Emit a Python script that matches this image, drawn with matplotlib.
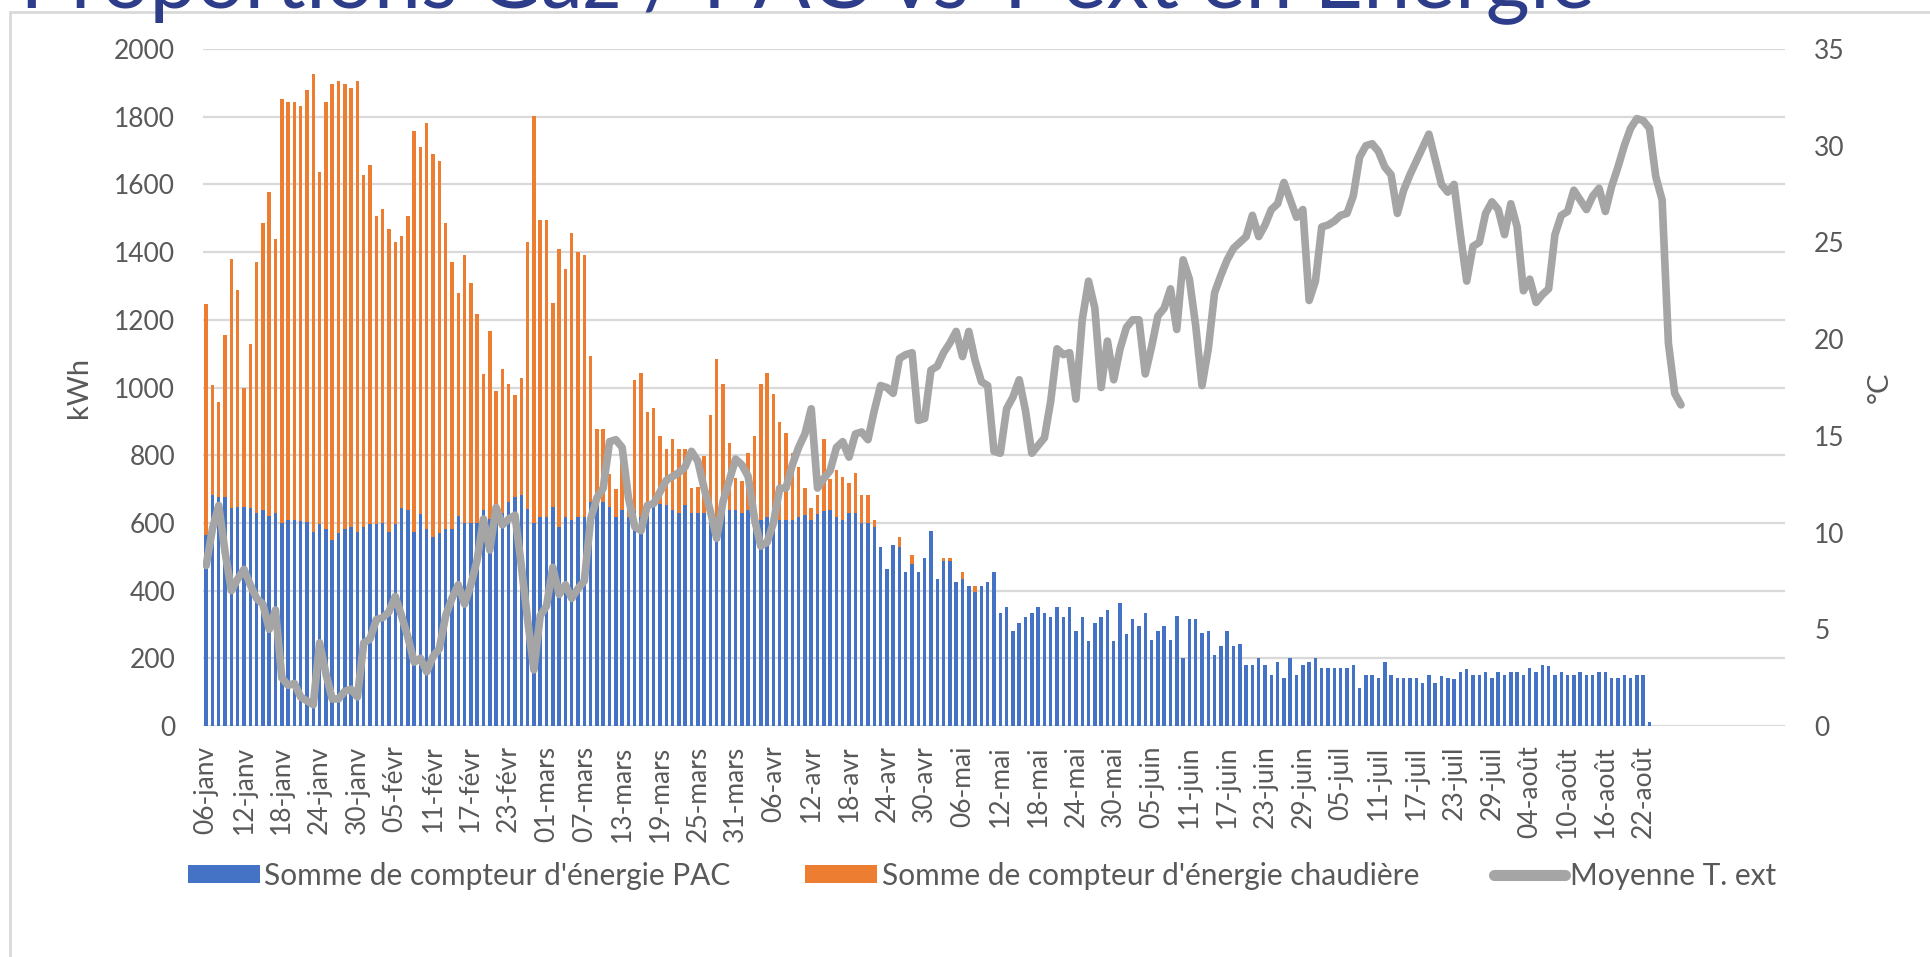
import matplotlib
matplotlib.use("Agg")
import matplotlib.pyplot as plt
from matplotlib.patches import Rectangle, Patch
from matplotlib.lines import Line2D
import numpy as np

plt.rcParams['font.family'] = ['Lato', 'DejaVu Sans']

# ---- data ----
# one category per day from 06-janv; the axis carries empty days after the data
n_categories = 251

tick_labels = ["06-janv", "12-janv", "18-janv", "24-janv", "30-janv",
               "05-févr", "11-févr", "17-févr", "23-févr",
               "01-mars", "07-mars", "13-mars", "19-mars", "25-mars", "31-mars",
               "06-avr", "12-avr", "18-avr", "24-avr", "30-avr",
               "06-mai", "12-mai", "18-mai", "24-mai", "30-mai",
               "05-juin", "11-juin", "17-juin", "23-juin", "29-juin",
               "05-juil", "11-juil", "17-juil", "23-juil", "29-juil",
               "04-août", "10-août", "16-août", "22-août"]

# PAC energy (kWh), daily
pac = [565, 683, 677, 677, 643, 646, 646, 643, 630, 639,
       620, 630, 599, 610, 610, 607, 603, 572, 596, 583,
       549, 569, 583, 589, 572, 589, 596, 596, 599, 572,
       596, 643, 639, 572, 626, 583, 559, 569, 583, 583,
       620, 599, 599, 599, 639, 612, 643, 630, 663, 677,
       683, 640, 600, 616, 616, 646, 589, 616, 610, 616,
       616, 663, 663, 663, 647, 616, 639, 616, 636, 616,
       634, 647, 656, 652, 639, 630, 652, 630, 630, 630,
       643, 600, 639, 639, 639, 630, 639, 616, 610, 616,
       636, 610, 610, 610, 616, 623, 610, 626, 636, 639,
       616, 610, 630, 630, 599, 599, 589, 529, 465, 536,
       529, 455, 478, 455, 496, 576, 435, 486, 486, 425,
       435, 415, 395, 415, 425, 455, 335, 352, 281, 304,
       321, 335, 352, 335, 321, 352, 321, 352, 281, 321,
       251, 304, 321, 344, 251, 362, 272, 315, 295, 335,
       255, 281, 295, 255, 324, 201, 315, 315, 275, 281,
       210, 237, 281, 237, 241, 181, 181, 201, 181, 151,
       190, 141, 201, 151, 181, 190, 201, 170, 170, 170,
       170, 170, 181, 111, 151, 151, 141, 190, 151, 141,
       141, 141, 141, 127, 151, 127, 147, 141, 138, 161,
       167, 151, 151, 161, 141, 161, 151, 161, 161, 151,
       170, 161, 181, 178, 151, 161, 151, 151, 161, 151,
       151, 161, 161, 141, 141, 151, 141, 151, 151, 13]

# PAC + chaudière stacked total (kWh), only while the boiler runs
total = [1246, 1007, 958, 1156, 1380, 1289, 998, 1128, 1370, 1487,
         1578, 1440, 1851, 1842, 1842, 1831, 1878, 1926, 1638, 1842,
         1898, 1906, 1898, 1886, 1906, 1628, 1658, 1507, 1527, 1467,
         1431, 1449, 1507, 1759, 1711, 1782, 1691, 1668, 1487, 1370,
         1279, 1390, 1309, 1216, 1041, 1168, 989, 1056, 1009, 978,
         1029, 1431, 1802, 1496, 1496, 1249, 1409, 1349, 1456, 1400,
         1390, 1094, 877, 877, 743, 700, 817, 680, 1021, 1042,
         927, 938, 857, 817, 847, 817, 817, 703, 706, 797,
         918, 1085, 1009, 837, 733, 723, 806, 857, 1009, 1042,
         981, 898, 867, 806, 764, 703, 643, 683, 847, 730,
         757, 737, 717, 746, 683, 683, 610, 529, 465, 536,
         559, 455, 505, 455, 496, 576, 435, 496, 496, 425,
         455, 415, 415, 415]

# mean outdoor temperature (°C)
t_ext = [8.3, 10.2, 11.4, 9.0, 7.0, 7.6, 8.1, 7.3, 6.6, 6.3,
         5.0, 6.0, 2.5, 2.1, 2.2, 1.5, 1.3, 1.1, 4.3, 2.7,
         1.4, 1.4, 1.8, 1.9, 1.5, 4.3, 4.5, 5.5, 5.6, 5.9,
         6.7, 5.7, 4.6, 3.3, 3.5, 2.8, 3.6, 4.0, 5.7, 6.6,
         7.3, 6.3, 7.3, 8.6, 10.7, 9.1, 11.3, 10.4, 10.7, 10.9,
         8.3, 5.5, 2.9, 5.7, 6.2, 8.2, 6.8, 7.3, 6.6, 7.1,
         7.5, 10.7, 11.8, 12.3, 14.7, 14.8, 14.4, 11.8, 10.3, 10.1,
         11.4, 11.5, 12.1, 12.7, 12.9, 13.1, 13.4, 14.2, 13.7, 12.3,
         11.1, 9.7, 11.6, 12.7, 13.8, 13.5, 12.9, 10.7, 9.3, 9.5,
         10.5, 12.3, 12.3, 13.5, 14.4, 15.1, 16.4, 12.3, 12.8, 13.2,
         14.4, 14.7, 13.9, 15.1, 15.2, 14.8, 16.3, 17.6, 17.5, 17.2,
         19.0, 19.2, 19.3, 15.8, 15.9, 18.4, 18.6, 19.3, 19.8, 20.4,
         19.1, 20.4, 18.9, 17.8, 17.6, 14.2, 14.1, 16.4, 17.0, 17.9,
         16.3, 14.1, 14.5, 14.9, 16.8, 19.5, 19.2, 19.3, 16.9, 21.0,
         23.0, 21.6, 17.5, 19.9, 17.9, 19.5, 20.6, 21.0, 21.0, 18.2,
         19.6, 21.2, 21.6, 22.6, 20.5, 24.1, 23.1, 20.7, 17.6, 19.5,
         22.4, 23.3, 24.1, 24.7, 25.0, 25.3, 26.4, 25.3, 25.9, 26.7,
         27.0, 28.1, 27.2, 26.3, 26.7, 22.0, 23.0, 25.8, 25.9, 26.1,
         26.4, 26.5, 27.4, 29.4, 30.0, 30.1, 29.7, 28.9, 28.5, 26.5,
         27.7, 28.5, 29.2, 29.9, 30.6, 29.3, 28.0, 27.6, 28.0, 25.4,
         23.0, 24.8, 25.0, 26.5, 27.1, 26.7, 25.4, 27.0, 25.8, 22.5,
         23.1, 21.9, 22.3, 22.6, 25.4, 26.4, 26.6, 27.7, 27.2, 26.7,
         27.4, 27.8, 26.6, 27.9, 28.9, 30.0, 30.9, 31.4, 31.3, 30.9,
         28.4, 27.2, 19.8, 17.2, 16.6]

title = "Proportions Gaz / PAC vs T ext en Énergie"
legend_labels = ["Somme de compteur d'énergie PAC",
                 "Somme de compteur d'énergie chaudière",
                 "Moyenne T. ext"]

# ---- derived series ----
pac = np.array(pac, dtype=float)
tot = np.array(total + [0] * (len(pac) - len(total)), dtype=float)
chaud = np.clip(tot - pac, 0, None)
x_bars = np.arange(len(pac))
x_line = np.arange(len(t_ext))
tick_pos = np.arange(len(tick_labels)) * 6

BLUE = "#4472C4"
ORANGE = "#ED7D31"
GREY = "#A5A5A5"
TXT = "#595959"
GRID = "#D9D9D9"

W, H = 1930, 957
fig = plt.figure(figsize=(W / 100, H / 100), dpi=100)
# chart frame, only its top and left edges are in the picture
fig.patches.append(Rectangle((10 / W, -0.1), 1.2, 1.1 - 12 / H, transform=fig.transFigure,
                             fill=False, edgecolor=GRID, lw=2, zorder=0))

ax = fig.add_axes([203 / W, 1 - 726 / H, (1785 - 203) / W, (726 - 49) / H])
ax2 = ax.twinx()

ax.bar(x_bars, pac, width=0.55, color=BLUE, zorder=2)
ax.bar(x_bars, chaud, width=0.55, bottom=pac, color=ORANGE, zorder=2)
ax2.plot(x_line, t_ext, color=GREY, lw=5.5, solid_joinstyle="round",
         solid_capstyle="round", zorder=3)

ax.set_xlim(-0.5, n_categories - 0.5)
ax.set_ylim(0, 2000)
ax.set_yticks(range(0, 2001, 200))
ax2.set_ylim(0, 35)
ax2.set_yticks(range(0, 36, 5))
ax.grid(axis="y", color=GRID, lw=1.6, zorder=0)
ax.set_axisbelow(True)
for a in (ax, ax2):
    for s in a.spines.values():
        s.set_visible(False)

ax.set_xticks(tick_pos)
ax.set_xticklabels(tick_labels, rotation=90, fontsize=19, color=TXT)
ax.tick_params(axis="x", length=0, pad=14)
ax.tick_params(axis="y", length=0, pad=20, labelsize=19, labelcolor=TXT)
ax2.tick_params(axis="y", length=0, pad=21, labelsize=19, labelcolor=TXT)

ax.set_ylabel("kWh", fontsize=21, color=TXT, labelpad=16)
ax2.set_ylabel("°C", fontsize=21, color=TXT, rotation=90, labelpad=16)

handles = [Patch(facecolor=BLUE), Patch(facecolor=ORANGE),
           Line2D([], [], color=GREY, lw=8, solid_capstyle="round")]
fig.legend(handles, legend_labels, loc="center", bbox_to_anchor=(982 / W, 1 - 876 / H),
           ncol=3, frameon=False, fontsize=21.5, labelcolor=TXT,
           handlelength=2.4, handleheight=0.55, handletextpad=0.15, columnspacing=2.5)

# title, cut by the top edge as in the reference
t = fig.text(20 / W, 1 - 8 / H, title, fontsize=60, color="#2E3D8A",
             ha="left", va="baseline")
fig.canvas.draw()
bb = t.get_window_extent()
t.set_fontsize(60 * (1595 - 20) / bb.width)

fig.savefig("out.png", dpi=100)
